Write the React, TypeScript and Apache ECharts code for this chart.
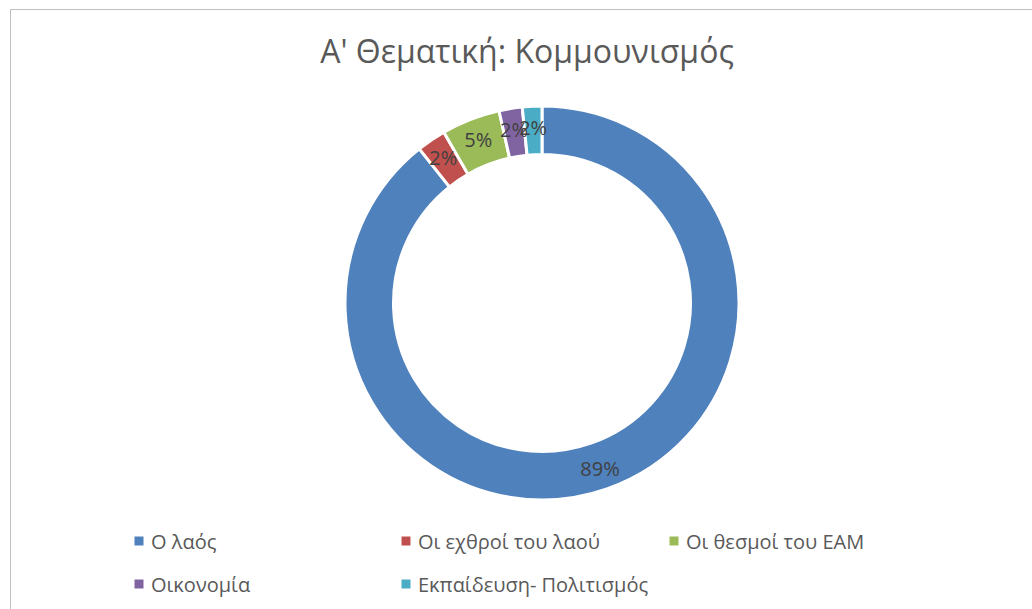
import React, { useEffect, useRef } from "react";
import * as echarts from "echarts";

const titleText = "Α' Θεματική: Κομμουνισμός";
const categories = [
  "Ο λαός",
  "Οι εχθροί του λαού",
  "Οι θεσμοί του ΕΑΜ",
  "Οικονομία",
  "Εκπαίδευση- Πολιτισμός",
];
const values = [89.3, 2.4, 4.8, 1.9, 1.6];
const colors = ["#4f81bd", "#c0504d", "#9bbb59", "#8064a2", "#4bacc6"];
// legend slots: [marker centre x, centre y]
const legendSlots: [number, number][] = [
  [141.5, 541],
  [408.5, 541],
  [676.5, 541],
  [141.5, 584],
  [408.5, 584],
];

export default function App() {
  const ref = useRef<HTMLDivElement>(null);
  useEffect(() => {
    document.body.style.margin = "0";
    if (!ref.current) return;
    const chart = echarts.init(ref.current, undefined, { renderer: "svg" });
    const font = "'Open Sans', 'Noto Sans', sans-serif";
    const legends = categories.map((name, i) => ({
      show: true,
      orient: "horizontal" as const,
      left: legendSlots[i][0] - 7,
      top: legendSlots[i][1] - 11,
      padding: 0,
      itemWidth: 14,
      itemHeight: 9,
      icon: "path://M0,0h9v9h-9z",
      itemStyle: { borderWidth: 0 },
      data: [name],
      selectedMode: false,
      textStyle: {
        fontFamily: font,
        fontSize: 20,
        color: "#595959",
        lineHeight: 22,
      },
    }));
    chart.setOption({
      animation: false,
      color: colors,
      legend: legends,
      graphic: [
        {
          type: "rect",
          shape: { x: 10.5, y: 9.5, width: 1040, height: 620 },
          style: { fill: "none", stroke: "#bfbfbf", lineWidth: 1 },
          silent: true,
        },
        {
          type: "text",
          x: 527,
          y: 50,
          silent: true,
          style: {
            text: titleText,
            fontFamily: font,
            fontSize: 32,
            fill: "#595959",
            align: "center",
            verticalAlign: "middle",
          },
        },
      ],
      series: [
        {
          type: "pie",
          radius: [148.5, 197],
          center: [542, 303],
          startAngle: 90,
          clockwise: true,
          avoidLabelOverlap: false,
          labelLayout: { hideOverlap: false },
          itemStyle: { borderColor: "#ffffff", borderWidth: 3 },
          label: {
            show: true,
            position: "inside",
            formatter: (p: any) => Math.round(p.percent) + "%",
            fontFamily: font,
            fontSize: 20,
            color: "#404040",
          },
          labelLine: { show: false },
          emphasis: { disabled: true },
          data: categories.map((name, i) => ({ name, value: values[i] })),
        },
      ],
    });
    return () => chart.dispose();
  }, []);
  return <div ref={ref} style={{ width: 1032, height: 609 }} />;
}
